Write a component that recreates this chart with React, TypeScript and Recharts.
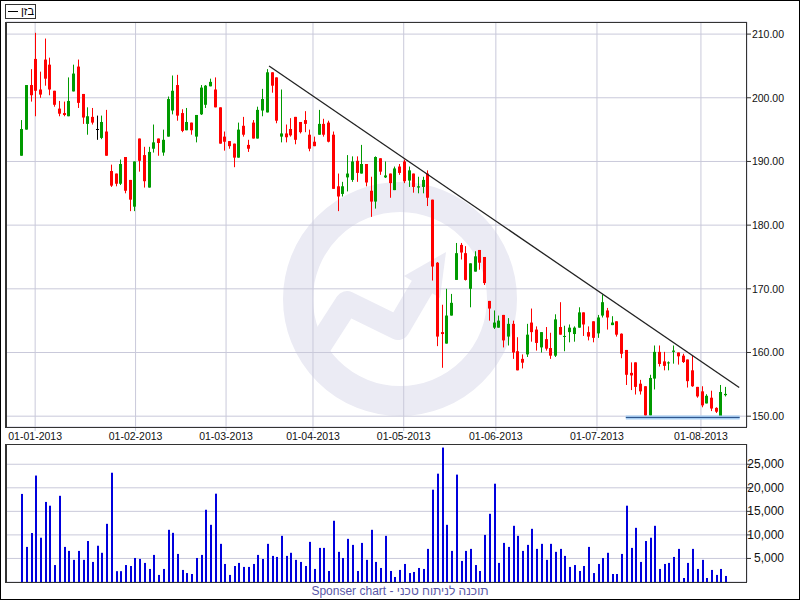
import React from "react"
import { ComposedChart, Bar, XAxis, YAxis, CartesianGrid, ReferenceLine } from "recharts"

// daily OHLC, 27-12-2012 .. 12-08-2013 (trading days)
const opens = [
  190.9, 195.0, 202.0, 206.1, 201.3, 206.0, 205.2, 201.1, 198.3, 197.6,
  197.1, 201.0, 204.9, 200.6, 195.9, 197.0, 195.1, 193.7, 194.7, 188.5,
  188.1, 186.5, 190.7, 187.1, 182.9, 193.6, 191.0, 185.9, 192.0, 193.6,
  191.4, 193.9, 198.0, 202.0, 197.6, 194.9, 196.1, 193.9, 197.4, 198.9,
  201.8, 201.3, 198.5, 193.9, 193.2, 192.8, 190.6, 195.6, 192.6, 196.1,
  193.6, 198.0, 197.7, 204.0, 203.2, 193.9, 194.4, 195.1, 197.0, 196.2,
  196.5, 194.2, 193.1, 194.2, 195.9, 196.1, 194.2, 186.1, 184.9, 187.5,
  187.1, 190.1, 188.1, 189.6, 185.4, 183.7, 190.5, 187.5, 188.1, 185.5,
  189.2, 190.0, 187.0, 188.1, 185.9, 186.0, 188.1, 184.0, 174.1, 163.2,
  161.4, 165.8, 171.4, 176.9, 175.6, 170.0, 172.7, 176.1, 175.0, 168.1,
  163.9, 163.9, 165.9, 162.5, 164.5, 160.2, 159.0, 159.7, 164.7, 163.6,
  160.8, 162.1, 160.7, 159.5, 164.0, 162.5, 163.2, 162.9, 163.9, 166.3,
  163.2, 164.9, 163.0, 165.8, 166.6, 164.3, 164.9, 162.95, 160.4, 156.8,
  158.45, 155.1, 154.7, 150.1, 155.9, 160.1, 158.6, 158.35, 160.1, 160.0,
  159.5, 158.9, 157.2, 154.6, 153.9, 152.0, 152.9, 151.3, 150.0, 153.3,
]
const highs = [
  196.5, 202.0, 204.5, 210.2, 204.1, 209.3, 206.3, 201.1, 199.5, 199.4,
  203.2, 205.2, 206.0, 200.6, 198.5, 198.4, 197.2, 197.2, 198.1, 189.5,
  188.1, 190.3, 190.7, 187.1, 190.0, 193.6, 192.3, 192.3, 195.8, 193.6,
  195.0, 200.2, 203.5, 203.6, 198.2, 198.4, 196.1, 197.3, 202.0, 202.0,
  203.0, 203.2, 198.5, 194.7, 193.2, 192.8, 196.1, 197.0, 193.4, 196.5,
  198.6, 201.4, 204.5, 204.0, 203.2, 201.3, 195.8, 196.8, 197.0, 196.2,
  197.9, 195.0, 193.9, 198.1, 196.7, 196.4, 194.7, 188.1, 186.8, 191.0,
  190.8, 190.8, 192.6, 189.6, 187.6, 190.8, 190.5, 190.0, 188.1, 189.2,
  189.6, 190.3, 189.2, 188.1, 187.6, 187.6, 188.6, 184.0, 174.2, 167.5,
  170.0, 169.2, 177.2, 177.2, 176.7, 174.0, 175.9, 176.1, 175.0, 168.1,
  166.6, 165.8, 165.9, 165.4, 165.0, 162.4, 159.7, 164.5, 166.9, 164.1,
  163.2, 164.0, 163.1, 166.0, 167.9, 164.2, 164.4, 164.1, 167.1, 166.3,
  164.1, 164.9, 165.9, 169.1, 167.0, 165.7, 164.9, 163.0, 160.4, 158.45,
  158.45, 155.7, 154.7, 156.5, 161.1, 161.1, 160.1, 158.6, 161.1, 160.0,
  159.8, 158.9, 159.5, 154.6, 154.7, 153.45, 154.0, 151.4, 154.9, 154.6,
]
const lows = [
  190.9, 195.0, 199.4, 197.1, 200.0, 201.9, 200.4, 198.6, 197.1, 197.1,
  197.1, 201.0, 198.4, 195.9, 194.2, 195.8, 193.4, 193.5, 190.9, 186.0,
  186.1, 186.3, 185.0, 182.2, 182.2, 188.4, 185.9, 185.9, 191.4, 190.9,
  190.9, 193.9, 197.4, 196.4, 194.6, 194.9, 194.2, 193.0, 197.3, 198.4,
  201.8, 198.5, 192.8, 191.7, 192.0, 189.1, 190.6, 193.9, 191.5, 193.6,
  193.6, 197.1, 197.7, 200.8, 196.0, 193.0, 193.0, 193.9, 192.7, 194.4,
  194.6, 191.6, 192.4, 194.2, 193.9, 193.0, 185.7, 182.2, 184.5, 185.3,
  186.8, 186.8, 188.1, 186.1, 181.3, 182.6, 187.9, 187.4, 184.3, 185.5,
  187.9, 186.6, 186.0, 185.1, 185.0, 185.0, 183.0, 171.3, 161.0, 157.6,
  161.4, 165.8, 171.4, 174.6, 171.3, 167.1, 172.7, 173.0, 170.6, 165.0,
  163.7, 163.9, 160.8, 161.1, 159.0, 157.2, 157.5, 159.3, 161.7, 160.3,
  160.0, 160.3, 159.0, 159.3, 162.8, 160.2, 161.6, 161.7, 163.9, 162.6,
  161.9, 161.6, 162.3, 165.5, 163.6, 164.3, 162.5, 159.1, 154.9, 154.1,
  153.4, 153.4, 149.9, 150.1, 154.2, 157.8, 157.2, 157.2, 158.25, 158.1,
  158.35, 154.5, 154.6, 152.9, 151.4, 152.0, 150.8, 150.5, 150.0, 153.1,
]
const closes = [
  195.1, 202.0, 200.4, 201.1, 200.5, 203.0, 201.3, 198.9, 197.5, 197.3,
  199.5, 203.8, 199.2, 196.9, 197.1, 196.1, 195.1, 196.2, 190.9, 186.2,
  186.5, 189.6, 185.4, 184.0, 190.0, 190.1, 186.9, 191.5, 193.0, 192.9,
  193.4, 199.8, 201.1, 197.2, 194.8, 196.2, 194.9, 197.3, 201.6, 201.9,
  202.5, 198.5, 192.8, 193.1, 192.4, 190.6, 195.0, 194.2, 192.0, 193.6,
  198.1, 199.8, 204.0, 201.9, 196.4, 194.4, 193.8, 194.1, 193.4, 194.6,
  195.9, 192.0, 192.4, 195.9, 194.2, 193.1, 185.7, 184.5, 186.1, 188.1,
  190.0, 188.2, 189.6, 186.7, 183.7, 190.7, 188.4, 187.8, 186.6, 188.9,
  188.2, 186.9, 188.6, 186.0, 186.1, 187.1, 184.3, 173.5, 162.5, 162.9,
  165.8, 167.8, 175.6, 175.7, 171.4, 174.0, 175.1, 174.1, 170.9, 166.9,
  164.7, 165.0, 161.9, 164.5, 160.0, 157.2, 158.4, 162.8, 163.2, 161.5,
  163.2, 160.6, 159.5, 165.2, 162.8, 162.6, 163.9, 163.9, 166.3, 164.4,
  162.5, 162.3, 165.5, 167.9, 165.5, 164.7, 162.8, 159.8, 156.5, 156.4,
  154.6, 153.9, 150.1, 156.0, 160.1, 158.2, 157.9, 158.45, 160.3, 159.4,
  158.5, 155.5, 154.7, 153.1, 151.7, 153.2, 151.2, 150.7, 153.8, 153.5,
]
const volumes = [
  18700, 7450, 10400, 22600, 9400, 17000, 16200, 3600, 18300, 7450,
  6600, 4700, 6600, 4700, 8700, 4260, 7700, 6200, 12350, 23200,
  2300, 2300, 3600, 3400, 5100, 4900, 4050, 2770, 5750, 1500,
  2770, 11080, 10440, 5960, 2560, 1900, 1700, 5100, 5750, 15340,
  12140, 18750, 8100, 3830, 1500, 3400, 4050, 3200, 3200, 3830,
  5750, 4900, 8100, 5540, 5320, 9800, 5540, 6200, 4700, 4260,
  3400, 8520, 2770, 7240, 7240, 2340, 13000, 6400, 5100, 9160,
  7880, 2340, 8300, 4700, 11080, 4260, 2980, 9800, 2340, 1065,
  2560, 3830, 1900, 2130, 2980, 2770, 7030, 19600, 23000, 28540,
  12140, 6600, 22800, 4470, 6600, 7030, 3600, 2340, 10000, 14480,
  20870, 4050, 8300, 7450, 11930, 9800, 6600, 7880, 11290, 7030,
  8100, 4700, 8100, 6400, 7030, 5540, 3200, 3600, 2340, 3400,
  7450, 1900, 3830, 5100, 6200, 1700, 1700, 5960, 16200, 7240,
  11500, 4260, 8700, 9400, 11930, 2770, 3830, 4050, 5320, 7030,
  850, 4050, 7030, 2770, 4700, 850, 2560, 1500, 2770, 1280,
]

// month starts, in trading-day index units
const monthTicks = [3, 24.25, 43.4, 61.8, 81, 100.5, 121.9, 143.9]
const monthLabels = ["01-01-2013", "01-02-2013", "01-03-2013", "01-04-2013", "01-05-2013", "01-06-2013", "01-07-2013", "01-08-2013"]
const priceTicks = [150, 160, 170, 180, 190, 200, 210]
const volumeTicks = [5000, 10000, 15000, 20000, 25000]

const trendLine = [{ x: 52.5, y: 205.0 }, { x: 152, y: 154.5 }]
const supportLine = [{ x: 128.0, y: 149.8 }, { x: 152.1, y: 149.8 }]

const data = opens.map((o, i) => ({
  idx: i,
  open: o,
  high: highs[i],
  low: lows[i],
  close: closes[i],
  range: [lows[i], highs[i]],
  volume: volumes[i],
}))

const X_DOMAIN = [-3.17, 153.65]
const GRID = "#c9c9da"
const FONT = "'Liberation Sans', Arial, sans-serif"

function Candle(props: any) {
  const { x, y, width, height, payload } = props
  const top = Math.min(y, y + height)
  const bottom = Math.max(y, y + height)
  const { open, close, high, low } = payload
  const span = high - low || 1
  const py = (p: number) => top + ((high - p) / span) * (bottom - top)
  const cx = Math.round(x + width / 2)
  const color = close > open ? "#009a00" : close < open ? "#ff0000" : "#000000"
  const bTop = py(Math.max(open, close))
  const bBot = py(Math.min(open, close))
  return (
    <g>
      <rect x={cx} y={top} width={1} height={bottom - top} fill={color} />
      <rect x={cx - 1} y={bTop} width={3} height={Math.max(1, bBot - bTop)} fill={color} />
    </g>
  )
}

function VolumeBar(props: any) {
  const { x, y, width, height } = props
  const cx = Math.round(x + width / 2)
  return <rect x={cx} y={y} width={2} height={height} fill="#0000dd" />
}

const DateTick = (props: any) => {
  const i = monthTicks.indexOf(props.payload.value)
  return (
    <text x={props.x} y={props.y + 9} textAnchor="middle" fontSize={10.5} fill="#111" fontFamily={FONT}>
      {monthLabels[i]}
    </text>
  )
}

const PriceTick = (props: any) => (
  <text x={784} y={props.y + 4} textAnchor="end" fontSize={10.5} fill="#111" fontFamily={FONT}>
    {props.payload.value.toFixed(2)}
  </text>
)

const VolumeTick = (props: any) => (
  <text x={784} y={props.y + 4} textAnchor="end" fontSize={12} fill="#111" fontFamily={FONT}>
    {props.payload.value.toLocaleString("en-US")}
  </text>
)

function Watermark() {
  return (
    <svg width={800} height={600} style={{ position: "absolute", left: 0, top: 0 }}>
      <circle cx={400} cy={299} r={102} fill="none" stroke="#ebebf4" strokeWidth={30} />
      <polyline
        points="318,348 347,303 398,328 425,282"
        fill="none"
        stroke="#ebebf4"
        strokeWidth={24}
        strokeLinejoin="round"
      />
      <polygon points="404,276 446,252 440,298" fill="#ebebf4" />
    </svg>
  )
}

export default function App() {
  return (
    <div style={{ position: "absolute", left: 0, top: 0, width: 800, height: 600, background: "#fff", overflow: "hidden", fontFamily: FONT }}>
      <Watermark />

      <div style={{ position: "absolute", left: 0, top: 0 }}>
        <ComposedChart width={800} height={444} data={data} margin={{ top: 22, right: 6, left: 6, bottom: 0 }}>
          <CartesianGrid stroke={GRID} strokeWidth={1} />
          <XAxis
            dataKey="idx"
            type="number"
            domain={X_DOMAIN}
            allowDataOverflow
            ticks={monthTicks}
            tick={<DateTick />}
            tickSize={4}
            tickMargin={0}
            tickLine={{ stroke: GRID }}
            axisLine={false}
            height={17}
            interval={0}
          />
          <YAxis
            orientation="right"
            domain={[148.3, 211.9]}
            allowDataOverflow
            ticks={priceTicks}
            tick={<PriceTick />}
            tickSize={4}
            tickLine={{ stroke: "#333" }}
            axisLine={false}
            width={47}
            interval={0}
          />
          <Bar dataKey="range" shape={<Candle />} isAnimationActive={false} />
          <ReferenceLine segment={supportLine} stroke="#a6cdf2" strokeWidth={4} />
          <ReferenceLine segment={supportLine} stroke="#2a4f85" strokeWidth={1} />
          <ReferenceLine segment={trendLine} stroke="#222" strokeWidth={1.3} />
        </ComposedChart>
      </div>

      <div style={{ position: "absolute", left: 0, top: 444 }}>
        <ComposedChart width={800} height={138} data={data} margin={{ top: 0, right: 6, left: 6, bottom: 0 }}>
          <CartesianGrid stroke={GRID} strokeWidth={1} />
          <XAxis
            dataKey="idx"
            type="number"
            domain={X_DOMAIN}
            allowDataOverflow
            ticks={monthTicks}
            tick={false}
            tickLine={false}
            axisLine={false}
            height={0}
            interval={0}
          />
          <YAxis
            orientation="right"
            domain={[0, 29300]}
            allowDataOverflow
            ticks={volumeTicks}
            tick={<VolumeTick />}
            tickSize={4}
            tickLine={{ stroke: "#333" }}
            axisLine={false}
            width={47}
            interval={0}
          />
          <Bar dataKey="volume" shape={<VolumeBar />} isAnimationActive={false} />
        </ComposedChart>
      </div>

      {/* panel frames */}
      <div style={{ position: "absolute", left: 5, top: 22, width: 742, height: 406, boxSizing: "border-box", border: "1px solid #333", borderLeftWidth: 2, pointerEvents: "none" }} />
      <div style={{ position: "absolute", left: 5, top: 444, width: 742, height: 139, boxSizing: "border-box", border: "1px solid #333", borderLeftWidth: 2, pointerEvents: "none" }} />

      {/* legend: dash on the left, name on the right */}
      <div style={{ position: "absolute", left: 5, top: 4, width: 31, height: 15, boxSizing: "border-box", border: "1px solid #333", background: "#fff" }}>
        <div style={{ position: "absolute", left: 2, top: 6, width: 10, height: 1, background: "#000" }} />
        <div style={{ position: "absolute", left: 15, top: 0, fontSize: 11, lineHeight: "13px", color: "#000" }}>בזן</div>
      </div>

      <div style={{ position: "absolute", left: 0, top: 584, width: 800, textAlign: "center", fontSize: 12, color: "#5a58a8" }}>
        Sponser chart - תוכנה לניתוח טכני
      </div>

      <div style={{ position: "absolute", left: 0, top: 0, width: 800, height: 600, boxSizing: "border-box", border: "1px solid #000", pointerEvents: "none" }} />
    </div>
  )
}
